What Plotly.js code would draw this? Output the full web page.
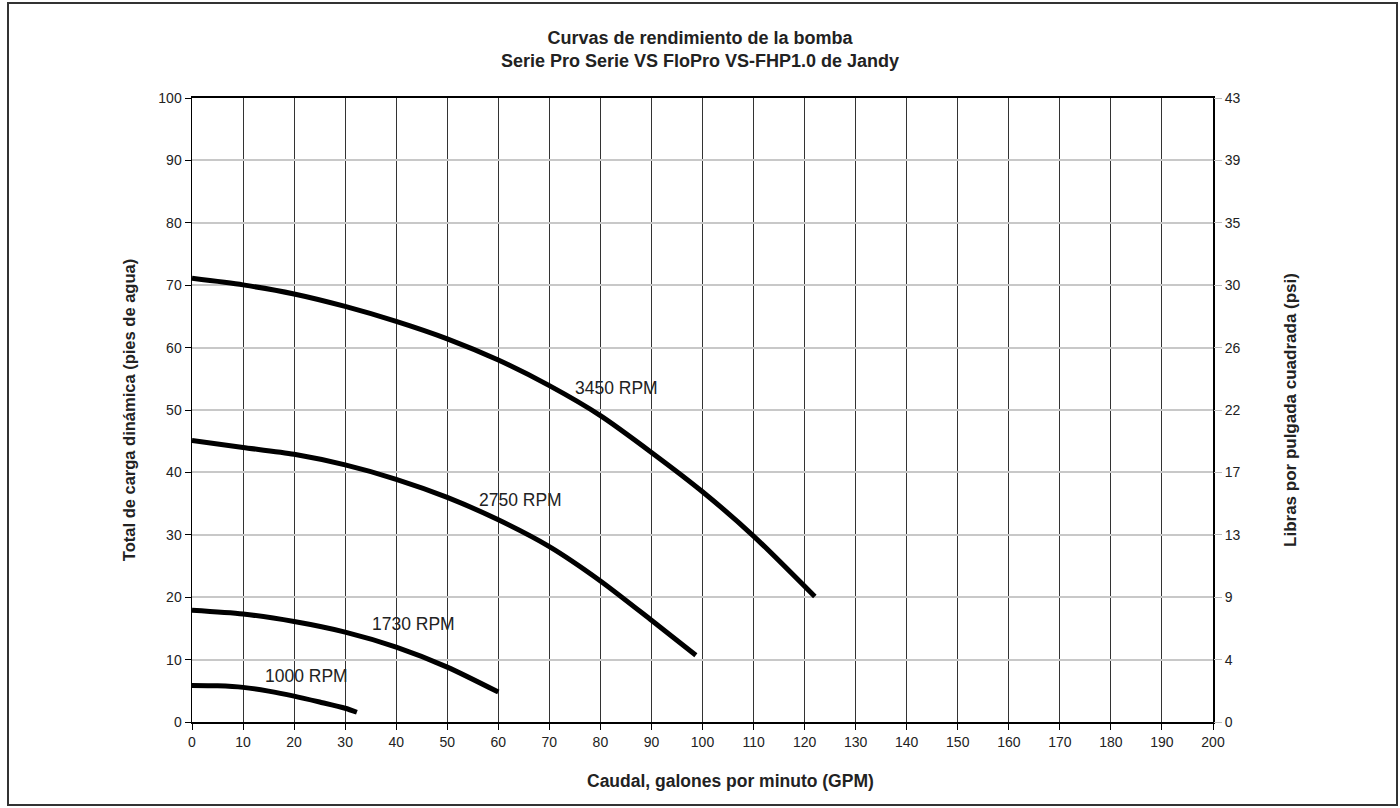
<!DOCTYPE html>
<html>
<head>
<meta charset="utf-8">
<script src="https://cdn.plot.ly/plotly-3.0.1.min.js"></script>
<style>html,body{margin:0;padding:0;background:#fff;}#chart{width:1400px;height:808px;}</style>
</head>
<body>
<div id="chart"></div>
<script>
// Data
const gpm3450 = [0, 10, 20, 30, 40, 50, 60, 70, 80, 90, 100, 110, 122];
const head3450 = [71.1, 70.05, 68.6, 66.6, 64.2, 61.4, 58.0, 53.9, 49.1, 43.2, 36.9, 29.8, 20.1];
const gpm2750 = [0, 10, 20, 30, 40, 50, 60, 70, 80, 90, 98.7];
const head2750 = [45.1, 44.0, 42.9, 41.2, 38.9, 36.0, 32.4, 28.1, 22.6, 16.3, 10.7];
const gpm1730 = [0, 10, 20, 30, 40, 50, 60];
const head1730 = [17.9, 17.3, 16.1, 14.4, 12.0, 8.8, 4.8];
const gpm1000 = [0, 5, 10, 15, 20, 25, 30, 32.3];
const head1000 = [5.86, 5.8, 5.55, 4.95, 4.15, 3.2, 2.2, 1.56];
const seriesNames = ['3450 RPM', '2750 RPM', '1730 RPM', '1000 RPM'];
const headTicks = [0, 10, 20, 30, 40, 50, 60, 70, 80, 90, 100];
const psiTickLabels = ['0', '4', '9', '13', '17', '22', '26', '30', '35', '39', '43'];
const gpmTicks = [0,10,20,30,40,50,60,70,80,90,100,110,120,130,140,150,160,170,180,190,200];

const FONT = 'Arial, "Liberation Sans", sans-serif';
const lineStyle = {color: '#000', width: 5, shape: 'spline', smoothing: 0.7};

const xs = [gpm3450, gpm2750, gpm1730, gpm1000];
const ys = [head3450, head2750, head1730, head1000];
const traces = xs.map((x, i) => ({
  x: x, y: ys[i], type: 'scatter', mode: 'lines', name: seriesNames[i],
  line: lineStyle, hoverinfo: 'x+y', showlegend: false
}));
// invisible trace to bind secondary axis
traces.push({x: [null], y: [null], yaxis: 'y2', type: 'scatter', mode: 'lines', showlegend: false, hoverinfo: 'skip'});

const L = 192, R = 1213, T = 98, B = 722;
const W = R - L, H = B - T;

const labelPos = [[83.2, 53.6], [64.3, 35.6], [43.3, 15.7], [22.4, 7.4]];
const annotations = seriesNames.map((n, i) => ({
  x: labelPos[i][0], y: labelPos[i][1], xref: 'x', yref: 'y', text: n, showarrow: false,
  font: {family: FONT, size: 17.5, color: '#222'}
}));
annotations.push({
  text: '<b>Caudal, galones por minuto (GPM)</b>', showarrow: false,
  xref: 'paper', yref: 'paper', x: (730 - L) / W, y: (B - 781) / H, xanchor: 'center', yanchor: 'middle',
  font: {family: FONT, size: 17.5, color: '#222'}
});

const layout = {
  width: 1400, height: 808,
  margin: {l: L, r: 1400 - R, t: T, b: 808 - B},
  paper_bgcolor: '#fff', plot_bgcolor: '#fff',
  font: {family: FONT, size: 14, color: '#222'},
  title: {
    text: '<b>Curvas de rendimiento de la bomba<br>Serie Pro Serie VS FloPro VS-FHP1.0 de Jandy</b>',
    font: {family: FONT, size: 18, color: '#222'},
    x: 0.5, xanchor: 'center', y: 1 - 44 / 808, yanchor: 'middle', yref: 'container'
  },
  xaxis: {
    range: [0, 200], tickvals: gpmTicks, ticks: 'outside', ticklen: 6, tickcolor: '#000',
    showline: true, linecolor: '#000', linewidth: 2, mirror: true,
    showgrid: true, gridcolor: '#333', gridwidth: 1, zeroline: false,
    tickfont: {family: FONT, size: 14, color: '#222'},
    fixedrange: true
  },
  yaxis: {
    range: [0, 100], tickvals: headTicks, ticks: 'outside', ticklen: 6, tickcolor: '#000',
    showline: true, linecolor: '#000', linewidth: 1.5, mirror: true,
    showgrid: true, gridcolor: '#c8c8c8', gridwidth: 2, zeroline: false,
    tickfont: {family: FONT, size: 14, color: '#222'},
    title: {text: '<b>Total de carga dinámica (pies de agua)</b>', font: {family: FONT, size: 16.5, color: '#222'}, standoff: 18},
    fixedrange: true
  },
  yaxis2: {
    overlaying: 'y', side: 'right', range: [0, 100], tickvals: headTicks, ticktext: psiTickLabels,
    ticks: 'outside', ticklen: 8, tickcolor: '#bbb', showgrid: false, zeroline: false, showline: false,
    tickfont: {family: FONT, size: 14, color: '#222'},
    title: {text: '<b>Libras por pulgada cuadrada (psi)</b>', font: {family: FONT, size: 17, color: '#222'}, standoff: 44},
    fixedrange: true
  },
  annotations: annotations,
  shapes: [{
    type: 'rect', xref: 'paper', yref: 'paper',
    x0: (8 - L) / W, x1: (1397 - L) / W, y0: (B - 805) / H, y1: (B - 3) / H,
    line: {color: '#333', width: 2}, fillcolor: 'rgba(0,0,0,0)', layer: 'above'
  }],
  showlegend: false
};

Plotly.newPlot('chart', traces, layout, {displayModeBar: false, staticPlot: true});
</script>
</body>
</html>
